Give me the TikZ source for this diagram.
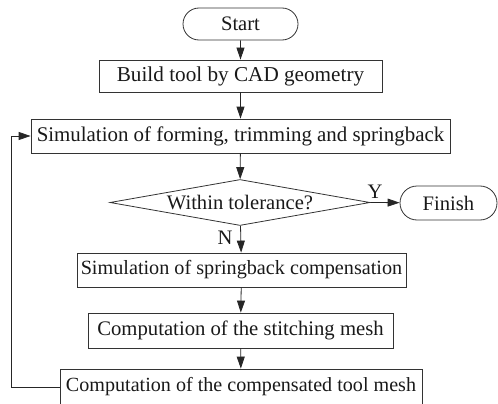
\documentclass[tikz,border=0pt]{standalone}
\usepackage{fontspec}
\setmainfont{Liberation Serif}
\usetikzlibrary{arrows.meta,shapes.misc,shapes.geometric}
\begin{document}
\begin{tikzpicture}[x=1pt,y=-1pt,
  fs/.style={font=\fontsize{#1}{24}\selectfont},
  every node/.style={fs=20.6, text=black!90, inner sep=0pt},
  box/.style={draw=black!80, line width=0.8pt, rectangle},
  term/.style={draw=black!80, line width=0.8pt, rounded rectangle},
  dec/.style={draw=black!80, line width=0.8pt, diamond, aspect=5.78},
  flow/.style={draw=black!85, line width=0.8pt, -{Triangle[length=12pt,width=8pt]}}]
\useasboundingbox (0,0) rectangle (498,404);
\node[term, minimum width=115pt, minimum height=32pt] (start) at (240.5,24) {Start};
\node[box, fs=21.2, minimum width=283pt, minimum height=32pt] (build) at (240.5,76) {Build tool by CAD geometry};
\node[box, fs=20.9, minimum width=419pt, minimum height=34pt] (sim) at (240.5,136) {Simulation of forming, trimming and springback};
\node[dec, minimum width=260pt, minimum height=46pt] (tol) at (240,202.5) {Within tolerance?};
\node[term, minimum width=97pt, minimum height=34pt] (fin) at (448.5,203) {Finish};
\node[box, fs=20.2, minimum width=329pt, minimum height=34pt] (spring) at (241.5,270) {Simulation of springback compensation};
\node[box, fs=20.7, minimum width=305pt, minimum height=35pt] (stitch) at (240.5,330.5) {Computation of the stitching mesh};
\node[box, fs=20.1, minimum width=362pt, minimum height=36pt] (comp) at (241,387) {Computation of the compensated tool mesh};
\coordinate (fb) at (11.5,387);
\draw[flow] (start) -- (build);
\draw[flow] (build) -- (sim);
\draw[flow] (sim) -- (tol);
\draw[flow] (tol) -- (spring);
\draw[flow] (tol.east) -- (fin);
\node (nlab) at (225,238) {N};
\node (ylab) at (375,192) {Y};
\draw[flow] (spring) -- (stitch);
\draw[flow] (stitch) -- (comp);
\draw[flow] (comp.west) -- (fb) |- (sim.west);
\end{tikzpicture}
\end{document}
